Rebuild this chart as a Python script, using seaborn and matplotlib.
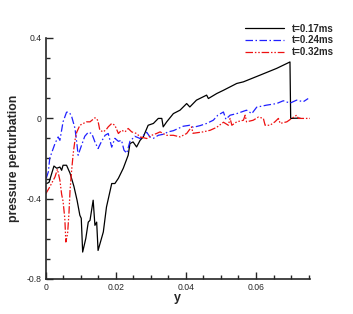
import numpy as np
import pandas as pd
import matplotlib
matplotlib.use("Agg")
import matplotlib.pyplot as plt
import seaborn as sns
from matplotlib.ticker import MultipleLocator, FuncFormatter

# values
y_017 = [0.0002, 0.0009, 0.0023, 0.0031, 0.0040, 0.0045, 0.0049, 0.0059, 0.0069, 0.0080,
         0.0089, 0.0097, 0.0101, 0.0105, 0.0114, 0.0121, 0.0126, 0.0135, 0.0140, 0.0145,
         0.0149, 0.0164, 0.0173, 0.0188, 0.0197, 0.0207, 0.0221, 0.0235, 0.0240, 0.0249,
         0.0259, 0.0269, 0.0278, 0.0292, 0.0307, 0.0321, 0.0331, 0.0335, 0.0345, 0.0364,
         0.0383, 0.0402, 0.0411, 0.0430, 0.0459, 0.0464, 0.0488, 0.0507, 0.0526, 0.0545,
         0.0564, 0.0611, 0.0659, 0.0697, 0.0699, 0.0711, 0.0726]
p_017 = [-0.325, -0.319, -0.238, -0.249, -0.243, -0.259, -0.234, -0.234, -0.274, -0.339,
         -0.408, -0.483, -0.498, -0.666, -0.598, -0.517, -0.508, -0.408, -0.533, -0.517,
         -0.658, -0.566, -0.442, -0.325, -0.325, -0.299, -0.249, -0.184, -0.126, -0.118,
         -0.143, -0.110, -0.093, -0.035, -0.026, -0.001, -0.001, -0.043, -0.018, 0.023,
         0.040, 0.073, 0.056, 0.090, 0.115, 0.098, 0.123, 0.139, 0.156, 0.173,
         0.181, 0.214, 0.248, 0.280, -0.001, 0.000, 0.000]

y_024 = [0.0001, 0.0007, 0.0011, 0.0026, 0.0035, 0.0040, 0.0049, 0.0059, 0.0064, 0.0069,
         0.0074, 0.0083, 0.0089, 0.0092, 0.0102, 0.0111, 0.0121, 0.0131, 0.0140, 0.0149,
         0.0159, 0.0169, 0.0178, 0.0183, 0.0188, 0.0197, 0.0207, 0.0216, 0.0223, 0.0231,
         0.0240, 0.0254, 0.0269, 0.0288, 0.0297, 0.0307, 0.0321, 0.0335, 0.0349, 0.0364,
         0.0378, 0.0392, 0.0411, 0.0421, 0.0440, 0.0459, 0.0478, 0.0491, 0.0507, 0.0514,
         0.0526, 0.0545, 0.0573, 0.0588, 0.0602, 0.0630, 0.0659, 0.0678, 0.0697, 0.0716,
         0.0735, 0.0749]
p_024 = [-0.299, -0.267, -0.199, -0.126, -0.093, -0.110, -0.018, 0.030, 0.031, 0.023,
         0.006, -0.050, -0.134, -0.184, -0.134, -0.090, -0.070, -0.076, -0.118, -0.151,
         -0.115, -0.085, -0.076, -0.110, -0.144, -0.100, -0.115, -0.110, -0.159, -0.174,
         -0.115, -0.090, -0.101, -0.070, -0.093, -0.100, -0.085, -0.080, -0.068, -0.062,
         -0.051, -0.040, -0.035, -0.045, -0.037, -0.026, -0.010, 0.015, 0.031, -0.005,
         0.015, 0.023, 0.040, 0.023, 0.055, 0.065, 0.073, 0.087, 0.075, 0.090,
         0.082, 0.098]

y_032 = [0.0000, 0.0011, 0.0026, 0.0033, 0.0040, 0.0045, 0.0049, 0.0054, 0.0057, 0.0062,
         0.0066, 0.0069, 0.0073, 0.0078, 0.0083, 0.0088, 0.0097, 0.0107, 0.0116, 0.0126,
         0.0140, 0.0145, 0.0149, 0.0154, 0.0164, 0.0173, 0.0178, 0.0188, 0.0197, 0.0207,
         0.0216, 0.0226, 0.0235, 0.0245, 0.0259, 0.0269, 0.0288, 0.0302, 0.0316, 0.0326,
         0.0345, 0.0364, 0.0383, 0.0402, 0.0416, 0.0420, 0.0449, 0.0469, 0.0488, 0.0507,
         0.0521, 0.0526, 0.0531, 0.0545, 0.0564, 0.0569, 0.0573, 0.0592, 0.0607, 0.0621,
         0.0626, 0.0640, 0.0654, 0.0664, 0.0669, 0.0688, 0.0702, 0.0716, 0.0721, 0.0754]
p_032 = [-0.375, -0.342, -0.292, -0.254, -0.309, -0.379, -0.413, -0.498, -0.616, -0.574,
         -0.468, -0.359, -0.269, -0.176, -0.110, -0.070, -0.035, -0.026, -0.018, -0.018,
         0.002, -0.002, -0.015, -0.060, -0.068, -0.055, -0.043, -0.026, -0.035, -0.076,
         -0.060, -0.068, -0.051, -0.068, -0.076, -0.093, -0.101, -0.085, -0.076, -0.068,
         -0.085, -0.085, -0.093, -0.076, -0.043, -0.075, -0.068, -0.060, -0.045, -0.020,
         -0.035, -0.001, -0.035, -0.018, -0.010, 0.015, -0.018, -0.010, 0.006, -0.001,
         -0.035, -0.035, -0.018, -0.001, -0.026, -0.018, -0.001, 0.015, -0.001, -0.001]

labels = ["t=0.17ms", "t=0.24ms", "t=0.32ms"]
colors = ["black", "#2020ff", "#ee1010"]
dashes = ["-", (0, (6, 2, 1.2, 2)), (0, (6, 1.5, 1.2, 1.5, 1.2, 1.5))]

sns.set_style("ticks")
plt.rcParams["font.family"] = ["Liberation Sans", "DejaVu Sans"]

fig = plt.figure(figsize=(3.53, 3.14), dpi=100)
ax = fig.add_axes([0.130, 0.1115, 0.748, 0.768])

series = [(y_017, p_017), (y_024, p_024), (y_032, p_032)]
for (xs, ps), lab, col, ls in zip(series, labels, colors, dashes):
    df = pd.DataFrame({"y": xs, "p": ps})
    sns.lineplot(data=df, x="y", y="p", sort=False, estimator=None, ax=ax,
                 color=col, linewidth=0.9, linestyle=ls, label=lab)

ax.set_xlim(0, 0.0754)
ax.set_ylim(-0.8, 0.4)
ax.xaxis.set_major_locator(MultipleLocator(0.02))
ax.xaxis.set_minor_locator(MultipleLocator(0.005))
ax.yaxis.set_major_locator(MultipleLocator(0.4))
ax.yaxis.set_minor_locator(MultipleLocator(0.1))
fmt = FuncFormatter(lambda v, _: "0" if abs(v) < 1e-9 else f"{v:g}")
ax.xaxis.set_major_formatter(fmt)
ax.yaxis.set_major_formatter(fmt)

ax.tick_params(which="both", direction="in", width=1.0, labelsize=6.2, pad=3)
ax.tick_params(which="major", length=5)
ax.tick_params(which="minor", length=3)
for s in ["top", "right"]:
    ax.spines[s].set_visible(False)
for s in ["left", "bottom"]:
    ax.spines[s].set_linewidth(1.2)

ax.set_xlabel("y", fontsize=9, fontweight="bold", labelpad=0)
ax.set_ylabel("pressure perturbation", fontsize=8.8, fontweight="bold", labelpad=5)

ax.legend(loc="upper right", bbox_to_anchor=(0.945, 0.925), bbox_transform=fig.transFigure,
          frameon=False, prop={"size": 7, "weight": "bold"}, handlelength=4.0,
          handletextpad=0.8, labelspacing=0.2, borderpad=0, borderaxespad=0)

fig.savefig("out.png", dpi=100)
